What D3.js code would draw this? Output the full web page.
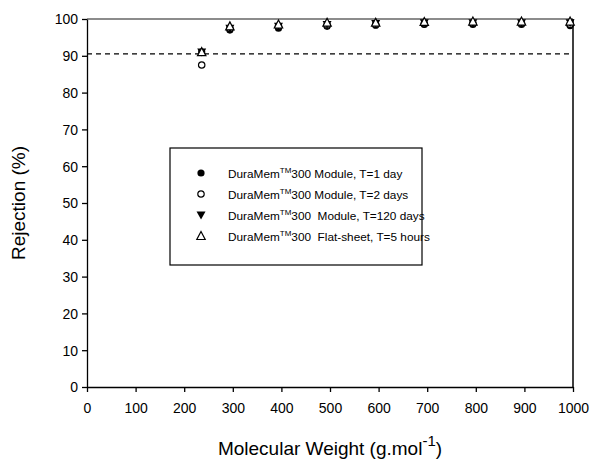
<!DOCTYPE html>
<html>
<head>
<meta charset="utf-8">
<script src="https://cdn.jsdelivr.net/npm/d3@7"></script>
<style>
body { margin: 0; background: #fff; }
text { font-family: "Liberation Sans", Arial, sans-serif; fill: #000; }
</style>
</head>
<body>
<svg width="591" height="466"></svg>
<script>
var molWeight = [236, 294, 394, 494, 594, 694, 794, 894, 994]
var day1 = [91.0, 97.0, 97.5, 98.0, 98.3, 98.5, 98.5, 98.5, 98.2]
var day2 = [87.5, 97.4, 98.0, 98.3, 98.5, 98.7, 98.8, 98.8, 98.5]
var day120 = [91.0, 97.5, 98.0, 98.5, 98.8, 99.0, 99.0, 99.0, 99.0]
var flatSheet = [91.0, 98.0, 98.5, 99.0, 99.0, 99.2, 99.3, 99.3, 99.3]
var cutoff = 90.5
var xTicks = [0, 100, 200, 300, 400, 500, 600, 700, 800, 900, 1000]
var yTicks = [0, 10, 20, 30, 40, 50, 60, 70, 80, 90, 100]
var legendNames = ["Module, T=1 day", "Module, T=2 days", "\u00a0Module, T=120 days", "\u00a0Flat-sheet, T=5 hours"]

function main() {
	var svg = d3.select("svg")
	var margin = {top: 19, right: 18, bottom: 79, left: 87}
	var width = svg.attr("width") - margin.left - margin.right
	var height = svg.attr("height") - margin.top - margin.bottom

	var canvas = svg.append("g")
		.attr("transform", "translate(" + margin.left + "," + margin.top + ")")

	var xScale = d3.scaleLinear().domain([0, 1000]).range([0, width])
	var yScale = d3.scaleLinear().domain([0, 100]).range([height, 0])

	// frame: top grey, right black
	canvas.append("line").attr("x1", 0).attr("x2", width).attr("y1", 0).attr("y2", 0)
		.attr("stroke", "#666").attr("stroke-width", 1.5)
	canvas.append("line").attr("x1", width).attr("x2", width).attr("y1", 0).attr("y2", height)
		.attr("stroke", "#000").attr("stroke-width", 1.5)

	var xAxis = d3.axisBottom(xScale).tickValues(xTicks).tickFormat(d3.format("d")).tickSize(5).tickSizeOuter(0)
	var yAxis = d3.axisLeft(yScale).tickValues(yTicks).tickSize(5).tickSizeOuter(0)

	var gx = canvas.append("g").attr("transform", "translate(0," + height + ")").call(xAxis)
	var gy = canvas.append("g").call(yAxis)
	;[gx, gy].forEach(function(g) {
		g.selectAll("path, line").attr("stroke", "#000").attr("stroke-width", 1.3)
		g.selectAll("text").style("font-size", "14px").attr("fill", "#000")
	})
	gx.selectAll("text").attr("dy", "1.25em")
	gy.selectAll("text").attr("x", -9).attr("dy", "0.35em")

	// dashed cutoff line
	canvas.append("line")
		.attr("x1", 0).attr("x2", width)
		.attr("y1", yScale(cutoff)).attr("y2", yScale(cutoff))
		.attr("stroke", "#000").attr("stroke-width", 1.3)
		.style("stroke-dasharray", "5, 4")

	var series = [
		{values: day1, type: "filled"},
		{values: day2, type: "open"},
		{values: day120, type: "down"},
		{values: flatSheet, type: "up"}
	]

	function drawMarker(g, type) {
		if (type == "filled") {
			g.append("circle").attr("r", 3.6).attr("fill", "#000")
		} else if (type == "open") {
			g.append("circle").attr("r", 3.2).attr("fill", "#fff").attr("stroke", "#000").attr("stroke-width", 1.2)
		} else if (type == "down") {
			g.append("path").attr("d", "M-4.5,-3.5L4.5,-3.5L0,4.5Z").attr("fill", "#000")
		} else {
			g.append("path").attr("d", "M-4.2,3.5L4.2,3.5L0,-4.5Z").attr("fill", "#fff").attr("stroke", "#000").attr("stroke-width", 1.2)
		}
	}

	series.forEach(function(s) {
		s.values.forEach(function(v, i) {
			var g = canvas.append("g")
				.attr("transform", "translate(" + xScale(molWeight[i]) + "," + yScale(v) + ")")
			drawMarker(g, s.type)
		})
	})

	// legend
	var legend = svg.append("g").attr("transform", "translate(170,148)")
	legend.append("rect").attr("width", 252).attr("height", 117)
		.attr("fill", "#fff").attr("stroke", "#000").attr("stroke-width", 1.2)
	legendNames.forEach(function(name, i) {
		var row = legend.append("g").attr("transform", "translate(0," + (25 + i * 21) + ")")
		drawMarker(row.append("g").attr("transform", "translate(31,0)"), series[i].type)
		var t = row.append("text").attr("x", 58).attr("y", 4.5).style("font-size", "11.8px")
		t.append("tspan").text("DuraMem")
		t.append("tspan").attr("dy", -5).style("font-size", "8px").text("TM")
		t.append("tspan").attr("dy", 5).text("300 " + name)
	})

	// axis titles
	var xt = svg.append("text").attr("x", margin.left + width / 2).attr("y", 455)
		.attr("text-anchor", "middle").style("font-size", "19px")
	xt.append("tspan").text("Molecular Weight (g.mol")
	xt.append("tspan").attr("dy", -9).style("font-size", "15px").text("-1")
	xt.append("tspan").attr("dy", 9).text(")")

	svg.append("text")
		.attr("transform", "translate(25," + (margin.top + height / 2) + ") rotate(-90)")
		.attr("text-anchor", "middle").style("font-size", "19px")
		.text("Rejection (%)")
}

window.onload = function() {
	main()
}
</script>
</body>
</html>
